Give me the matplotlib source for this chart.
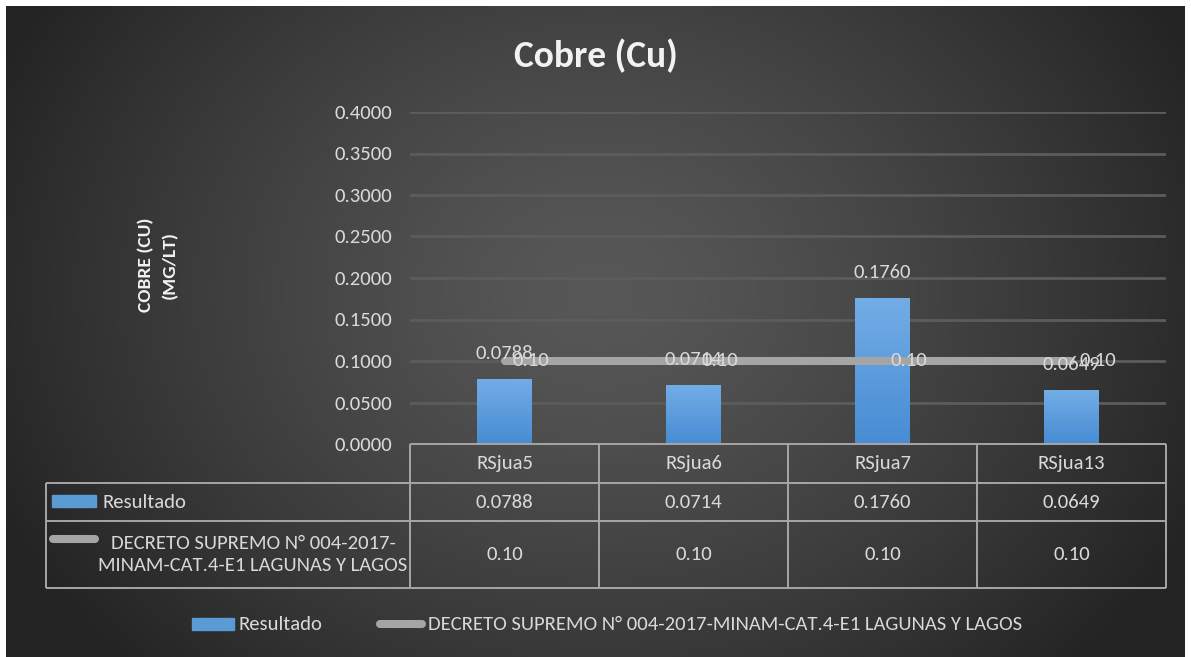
import numpy as np
import matplotlib
matplotlib.use("Agg")
import matplotlib.pyplot as plt
from matplotlib import font_manager
from matplotlib.patches import Rectangle
from matplotlib.lines import Line2D
from matplotlib.ticker import FuncFormatter, MultipleLocator

# ---- data ----
categories = ["RSjua5", "RSjua6", "RSjua7", "RSjua13"]
resultado = [0.0788, 0.0714, 0.1760, 0.0649]
resultado_labels = ["0.0788", "0.0714", "0.1760", "0.0649"]
limite = [0.10, 0.10, 0.10, 0.10]
limite_labels = ["0.10", "0.10", "0.10", "0.10"]
series_names = ["Resultado", "DECRETO SUPREMO N° 004-2017-MINAM-CAT.4-E1 LAGUNAS Y LAGOS"]
limite_row_label = "DECRETO SUPREMO N° 004-2017-\nMINAM-CAT.4-E1 LAGUNAS Y LAGOS"
title = "Cobre (Cu)"
ylabel = "COBRE (CU)\n(MG/LT)"

# ---- fonts: prefer a condensed face ----
names = {f.name for f in font_manager.fontManager.ttflist}
FONT = "Liberation Sans"
for cand in ["Carlito", "Liberation Sans Narrow", "DejaVu Sans Condensed", "Roboto Condensed",
             "Open Sans Condensed", "Liberation Sans"]:
    if cand in names:
        FONT = cand
        break
plt.rcParams["font.family"] = [FONT, "DejaVu Sans"]

W, H = 1191, 657
TXT = "#d9d9d9"
GRID = "#5c5c5c"
TABLE_LINE = "#a6a6a6"
BLUE = "#5b9bd5"
GRAY = "#a5a5a5"

fig = plt.figure(figsize=(W / 100, H / 100), dpi=100, facecolor="white")
renderer = fig.canvas.get_renderer()


def fit_size(s, target_px, **kw):
    """Font size (pt) that makes string s about target_px wide."""
    t = fig.text(0, 0, s, fontsize=20, **kw)
    w = t.get_window_extent(renderer=renderer).width
    t.remove()
    return 20 * target_px / w


FS = min(15.5, fit_size(series_names[1], 594))
TITLE_FS = min(27, fit_size(title, 172, fontweight="bold"))
YL_FS = min(14, fit_size("COBRE (CU)", 108, fontweight="bold"))


def fx(x):
    return x / W


def fy(y):
    return 1 - y / H


# ---- dark radial background ----
bg = fig.add_axes([fx(6), 0, fx(1185) - fx(6), fy(6)])
bg.set_axis_off()
gx = np.linspace(6, 1185, 600)
gy = np.linspace(6, 657, 330)
X, Y = np.meshgrid(gx, gy)
r = np.sqrt(((X - 600) / 660) ** 2 + ((Y - 290) / 540) ** 2)
r = np.clip(r, 0, 1)
c0, c1 = 0x58 / 255, 0x24 / 255
shade = c0 + (c1 - c0) * r ** 1.3
img = np.dstack([shade, shade, shade])
bg.imshow(img, extent=[0, 1, 0, 1], aspect="auto", interpolation="bilinear", origin="upper")
bg.set_xlim(0, 1)
bg.set_ylim(0, 1)

# ---- main plot ----
ax = fig.add_axes([fx(410), fy(444), fx(1166) - fx(410), fy(112) - fy(444)])
ax.set_facecolor("none")
x = np.arange(len(categories))
bars = ax.bar(x, resultado, width=0.286, color=BLUE, zorder=2)

# vertical gradient fill inside each bar
grad = np.linspace(0, 1, 100).reshape(-1, 1)
top_c = np.array([0x73, 0xad, 0xe6]) / 255
bot_c = np.array([0x47, 0x8c, 0xd4]) / 255
gimg = (top_c * (1 - grad) + bot_c * grad).reshape(100, 1, 3)
for b in bars:
    x0, y0 = b.get_x(), b.get_y()
    im = ax.imshow(gimg, extent=[x0, x0 + b.get_width(), y0, y0 + b.get_height()],
                   aspect="auto", origin="upper", zorder=2.1)
    im.set_clip_path(b)

ax.plot(x, limite, color=GRAY, lw=5.8, solid_capstyle="round", zorder=3)

for xi, v, s in zip(x, resultado, resultado_labels):
    ax.annotate(s, (xi, v), xytext=(0, 12), textcoords="offset points", ha="center",
                va="bottom", color=TXT, fontsize=FS, zorder=5)
for xi, v, s in zip(x, limite, limite_labels):
    ax.annotate(s, (xi, v), xytext=(6, 0), textcoords="offset points", ha="left",
                va="center", color=TXT, fontsize=FS, zorder=5)

ax.set_xlim(-0.5, len(categories) - 0.5)
ax.set_ylim(0, 0.4)
ax.yaxis.set_major_locator(MultipleLocator(0.05))
ax.yaxis.set_major_formatter(FuncFormatter(lambda v, p: f"{v:.4f}"))
ax.tick_params(axis="y", length=0, pad=13, labelcolor=TXT, labelsize=FS)
ax.tick_params(axis="x", length=0, labelbottom=False)
ax.grid(axis="y", color=GRID, lw=2, zorder=0)
ax.set_axisbelow(True)
for sp in ax.spines.values():
    sp.set_visible(False)

# ---- overlay in pixel units for the data table, titles and legend ----
ov = fig.add_axes([0, 0, 1, 1], zorder=10)
ov.set_xlim(0, W)
ov.set_ylim(H, 0)
ov.set_axis_off()
ov.patch.set_alpha(0)

fig.canvas.draw()


def data_to_px(xd, yd):
    d = ax.transData.transform((xd, yd))
    return d[0], H - d[1]


col_edges = [data_to_px(e, 0)[0] for e in np.arange(len(categories) + 1) - 0.5]
col_centers = [data_to_px(c, 0)[0] for c in x]
y_top = data_to_px(0, 0)[1]
y_r1, y_r2, y_bot = 483, 521, 588
x_left = 46

lkw = dict(color=TABLE_LINE, lw=1.4, solid_capstyle="butt")
ov.plot([col_edges[0], col_edges[-1]], [y_top, y_top], **lkw)
for yy in (y_r1, y_r2, y_bot):
    ov.plot([x_left, col_edges[-1]], [yy, yy], **lkw)
for xe in col_edges:
    ov.plot([xe, xe], [y_top, y_bot], **lkw)
ov.plot([x_left, x_left], [y_r1, y_bot], **lkw)

for cx, cat, rv, lv in zip(col_centers, categories, resultado_labels, limite_labels):
    ov.text(cx, (y_top + y_r1) / 2, cat, ha="center", va="center", color=TXT, fontsize=FS)
    ov.text(cx, (y_r1 + y_r2) / 2, rv, ha="center", va="center", color=TXT, fontsize=FS)
    ov.text(cx, (y_r2 + y_bot) / 2, lv, ha="center", va="center", color=TXT, fontsize=FS)

# row headers with legend keys
ov.add_patch(Rectangle((52, 495), 44, 12, color=BLUE))
ov.text(102, (y_r1 + y_r2) / 2, series_names[0], ha="left", va="center", color=TXT, fontsize=FS)
ov.add_line(Line2D([53, 95], [539, 539], color=GRAY, lw=5.8, solid_capstyle="round"))
ov.text(253, (y_r2 + y_bot) / 2, limite_row_label, ha="center", va="center", color=TXT,
        fontsize=FS, multialignment="center", linespacing=1.35)

# bottom legend
ov.add_patch(Rectangle((192, 618), 42, 12, color=BLUE))
ov.text(239, 624, series_names[0], ha="left", va="center", color=TXT, fontsize=FS)
ov.add_line(Line2D([380, 422], [624, 624], color=GRAY, lw=5.8, solid_capstyle="round"))
ov.text(428, 624, series_names[1], ha="left", va="center", color=TXT, fontsize=FS)

# title and axis title
ov.text(596, 67, title, ha="center", va="baseline", color="#f2f2f2", fontsize=TITLE_FS,
        fontweight="bold")
ov.text(158, 265, ylabel, ha="center", va="center", rotation=90, color="#f2f2f2",
        fontsize=YL_FS, fontweight="bold", multialignment="center", linespacing=1.5)

fig.savefig("out.png", dpi=100, facecolor="white")
